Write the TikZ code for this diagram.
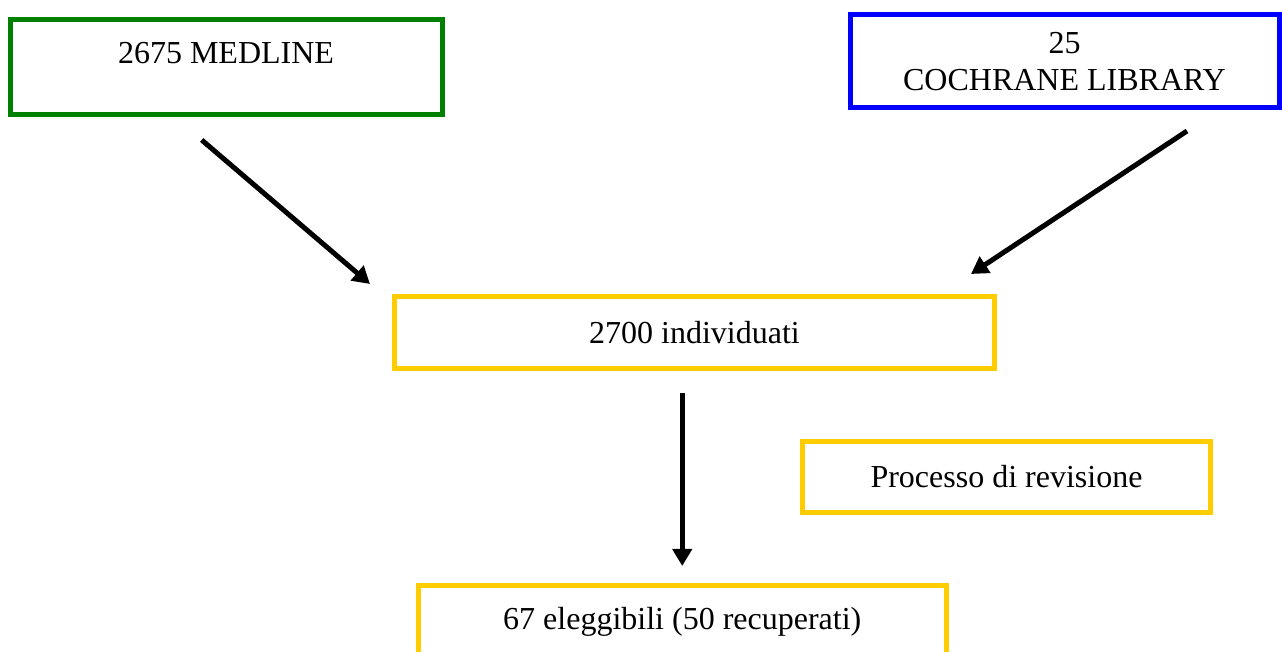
\documentclass[tikz,border=0pt]{standalone}
\usepackage{fontspec}
\setmainfont{Liberation Serif}
\usepackage{tikz}
\usetikzlibrary{arrows.meta}
\usetikzlibrary{shapes}
\definecolor{dbgreen}{RGB}{0,128,0}
\definecolor{dbblue}{RGB}{0,0,255}
\definecolor{stageyellow}{RGB}{255,204,0}
\tikzstyle{database} = [rectangle, line width=2.5pt, outer sep=0pt, text centered, align=center, font=\fontsize{16}{18.4}\selectfont]
\tikzstyle{stage} = [rectangle, line width=2.5pt, outer sep=0pt, draw=stageyellow, text centered, align=center, font=\fontsize{16}{18.4}\selectfont]
\tikzstyle{arrow} = [line width=2.5pt,-{Triangle[length=8.5pt,width=9.5pt]}]

\begin{document}
\begin{tikzpicture}[x=0.5pt,y=-0.5pt]
\useasboundingbox (0,0) rectangle (1282,652);

\node [database, draw=dbgreen, minimum width=216pt, minimum height=47.5pt] (medline) at (226,67.5) {2675 MEDLINE\\[-4pt]\mbox{}};
\node [database, draw=dbblue, minimum width=214.5pt, minimum height=46.5pt] (cochrane) at (1064.5,61.5) {25\\COCHRANE LIBRARY};

\node [stage, minimum width=300pt, minimum height=36pt] (found) at (694.5,333) {2700 individuati};
\node [stage, minimum width=204pt, minimum height=35.5pt] (review) at (1006.5,477) {Processo di revisione};
\node [stage, minimum width=263.75pt, minimum height=36pt] (eligible) at (682.25,621.5) {67 eleggibili (50 recuperati)};

\draw [arrow] ([xshift=-12.15pt,yshift=-12.5pt]medline.south) -- ([xshift=-12.25pt,yshift=6.5pt]found.north west);
\draw [arrow] ([xshift=-46pt,yshift=-11.5pt]cochrane.south east) -- ([xshift=-11.75pt,yshift=11.5pt]found.north east);
\draw [arrow] ([yshift=-12pt]found.south -| eligible.north) -- ([yshift=9.75pt]eligible.north);

\end{tikzpicture}
\end{document}
